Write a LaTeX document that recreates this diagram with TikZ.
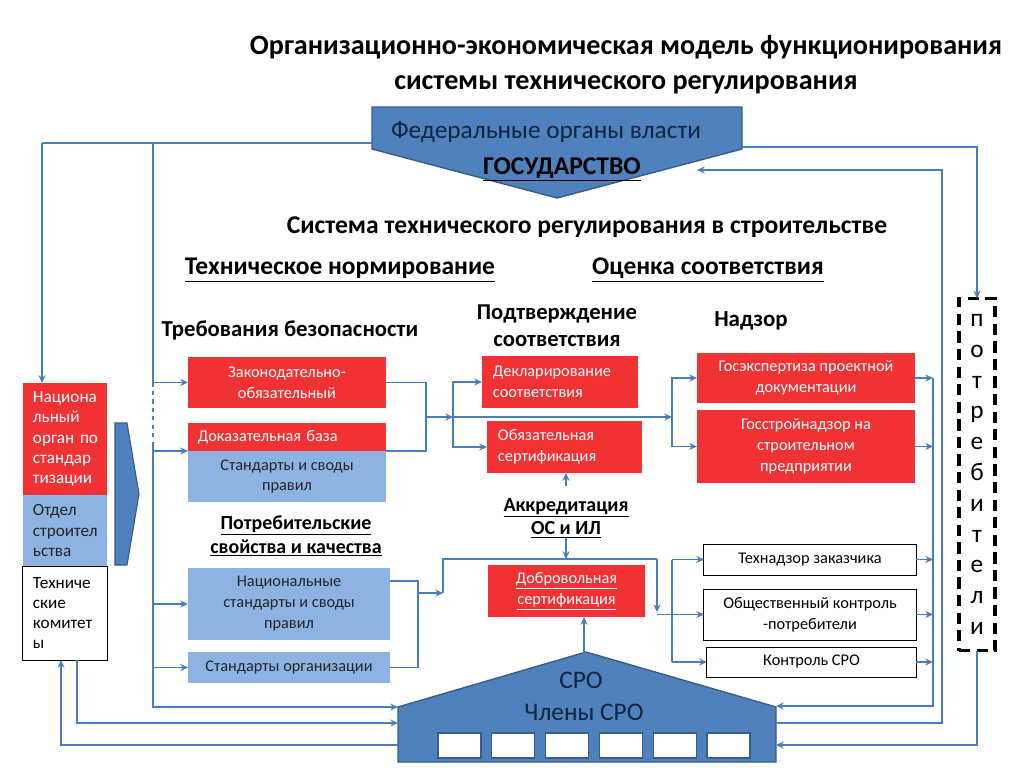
\documentclass[tikz,border=0pt]{standalone}
\usepackage{fontspec}
\setmainfont{Carlito}
\usetikzlibrary{arrows.meta}

\definecolor{boxred}{RGB}{240,50,52}
\definecolor{boxblue}{RGB}{141,179,226}
\definecolor{darkblue}{RGB}{79,129,189}
\definecolor{edgeblue}{RGB}{56,93,138}
\definecolor{linkblue}{RGB}{74,126,187}
\definecolor{navytext}{RGB}{16,37,63}

\begin{document}
\begin{tikzpicture}[
        x=0.025cm, y=-0.025cm,
        >={Stealth[length=5.5pt,width=5pt]},
        every node/.style={inner sep=0pt, outer sep=0pt},
        boxtext/.style={font=\fontsize{11.6}{14.9}\selectfont, align=center},
        redbox/.style={boxtext, fill=boxred, text=white},
        bluebox/.style={boxtext, fill=boxblue, text=black!85},
        whitebox/.style={boxtext, draw=black, line width=0.7pt, fill=white, text=black},
        colbox/.style={font=\fontsize{12.2}{14.3}\selectfont, align=left, text width=1.6cm, inner xsep=0.25cm, minimum height=#1},
        head/.style={font=\bfseries\fontsize{#1}{20}\selectfont, align=center},
        link/.style={draw=linkblue, line width=0.8pt},
    ]
    \useasboundingbox (0,0) rectangle (1024,768);

    % title
    \node[font=\bfseries\fontsize{20}{25}\selectfont, align=center] (title) at (626,65)
        {Организационно-экономическая модель функционирования\\системы технического регулирования};

    % state
    \draw[fill=darkblue, draw=edgeblue, line width=1pt] (372,107) -- (742,107) -- (742,149) -- (557,198) -- (372,149) -- cycle;
    \node[font=\fontsize{18}{20}\selectfont, text=navytext] (fed) at (546,132) {Федеральные органы власти};
    \node[font=\bfseries\fontsize{18.2}{20}\selectfont] (gos) at (562,169) {\underline{ГОСУДАРСТВО}};
    \coordinate (fedW) at (372,143);
    \coordinate (fedE) at (742,147);
    \coordinate (gosIn) at (697,170);

    % headings
    \node[head=18.2] (sys) at (587,227) {Система технического регулирования в строительстве};
    \node[head=18.1] (tn) at (340,270) {\underline{Техническое нормирование}};
    \node[head=18.1] (oc) at (708,270) {\underline{Оценка соответствия}};
    \node[head=16.2] (treb) at (290,330) {Требования безопасности};
    \node[font=\bfseries\fontsize{16.1}{19}\selectfont, align=center] (podtv) at (557,326) {Подтверждение\\соответствия};
    \node[head=16.3] (nadzor) at (751,321) {Надзор};
    \node[font=\bfseries\fontsize{14.2}{17}\selectfont, align=center] (potrsv) at (296,536)
        {\underline{Потребительские}\\\underline{свойства и качества}};
    \node[font=\bfseries\fontsize{14.2}{17}\selectfont, align=center] (akkr) at (566,518)
        {\underline{Аккредитация}\\\underline{ОС и ИЛ}};

    % left column
    \node[colbox=2.8cm, fill=boxred, text=white] (nat) at (65,439) {Национа\\льный\\орган~по\\стандар\\тизации};
    \node[colbox=1.775cm, fill=boxblue, text=black!85] (otdel) at (65,530.5) {Отдел\\строител\\ьства};
    \node[colbox=2.35cm, draw=black, line width=0.7pt, fill=white] (tk) at (65,613) {Техниче\\ские\\комитет\\ы};
    \draw[fill=darkblue, draw=edgeblue, line width=0.8pt] (115,423) -- (127,423) -- (139,494) -- (127,565) -- (115,565) -- cycle;

    % technical norms
    \node[redbox, minimum width=4.95cm, minimum height=1.275cm] (zak) at (287,382.5) {Законодательно-\\обязательный};
    \node[redbox, text width=4.45cm, inner xsep=0.25cm, minimum height=0.7cm, align=left] (dokaz) at (287,437) {Доказательная база};
    \node[bluebox, minimum width=4.95cm, minimum height=1.275cm] (std) at (287,476.5) {Стандарты и своды\\правил};
    \node[bluebox, minimum width=5.05cm, minimum height=1.8cm] (natstd) at (289,604) {Национальные\\стандарты и своды\\правил};
    \node[bluebox, minimum width=5.05cm, minimum height=0.775cm] (orgstd) at (289,667.5) {Стандарты организации};

    % conformity
    \node[redbox, text width=3.35cm, inner xsep=0.275cm, minimum height=1.3cm, align=left] (decl) at (560,382) {Декларирование\\соответствия};
    \node[redbox, text width=3.325cm, inner xsep=0.275cm, minimum height=1.3cm, align=left] (oblig) at (564.5,447) {Обязательная\\сертификация};
    \node[redbox, minimum width=3.925cm, minimum height=1.3cm] (dobr) at (566.5,591) {\underline{Добровольная}\\\underline{сертификация}};
    \node[redbox, minimum width=5.45cm, minimum height=1.25cm] (gosexp) at (806,378) {Госэкспертиза проектной\\документации};
    \node[redbox, minimum width=5.45cm, minimum height=1.825cm] (gosstroy) at (806,446.5) {Госстройнадзор на\\строительном\\предприятии};
    \node[whitebox, minimum width=5.3cm, minimum height=0.775cm] (tehnadz) at (810,559.5) {Технадзор заказчика};
    \node[whitebox, minimum width=5.3cm, minimum height=1.275cm] (obsch) at (810,614.5) {Общественный контроль\\-потребители};
    \node[whitebox, minimum width=5.225cm, minimum height=0.75cm] (kontr) at (811.5,662) {Контроль СРО};

    % consumers
    \node[draw=black, line width=2.4pt, dash pattern=on 8pt off 4.5pt, minimum width=0.9cm, minimum height=8.8cm,
        align=center, font=\fontsize{18}{21.9}\selectfont] (potr) at (977,474.5)
        {п\\о\\т\\р\\е\\б\\и\\т\\е\\л\\и};

    % SRO
    \draw[fill=darkblue, draw=edgeblue, line width=1pt] (398,707) -- (586,652) -- (776,707) -- (776,762) -- (398,762) -- cycle;
    \foreach \i in {0,...,5}
        \draw[fill=white, draw=edgeblue, line width=0.8pt] ({438+53.8*\i},733) rectangle +(43,25);
    \node[font=\fontsize{18}{20}\selectfont, text=navytext] (sro) at (581,680) {СРО};
    \node[font=\fontsize{18}{20}\selectfont, text=navytext] (members) at (584,712) {Члены СРО};
    \coordinate (sroA) at (398,707);
    \coordinate (sroB) at (398,723);
    \coordinate (sroC) at (398,745);
    \coordinate (sroD) at (776,706);
    \coordinate (sroE) at (776,723);
    \coordinate (sroF) at (776,745);
    \coordinate (sroTop) at (584,653);

    % left links
    \coordinate (busL) at (42,143);
    \coordinate (busM) at (153,143);
    \coordinate (busGap) at (153,443);
    \draw[link] (fedW) -- (busL);
    \draw[link,->] (busL) -- (busL |- nat.north);
    \draw[link] (busM) -- (busM |- zak.west);
    \draw[link,dashed] (busM |- zak.west) -- (busGap);
    \draw[link,->] (busGap) |- (sroA);
    \draw[link,->] (busM |- zak.west) -- (zak.west);
    \draw[link,->] (busM |- dokaz.south) -- (dokaz.south west);
    \draw[link,->] (busM |- natstd.west) -- (natstd.west);
    \draw[link,->] (busM |- orgstd.west) -- (orgstd.west);
    \draw[link,->] ([xshift=0.3cm]tk.south) |- (sroB);
    \draw[link,->] (sroC) -| ([xshift=-0.1cm]tk.south);

    % middle links
    \coordinate (j1) at (426,417);
    \coordinate (j2) at (453,417);
    \coordinate (j3) at (672,417);
    \draw[link] (zak.east) -| (j1);
    \draw[link] (dokaz.south east) -| (j1);
    \draw[link,->] (j1) -- (j2);
    \draw[link,->] (j2) |- (decl.west);
    \draw[link,->] (j2) |- (oblig.west);
    \draw[link,->] (j2) -- (j3);
    \draw[link,->] (j3) |- (gosexp.west);
    \draw[link,->] (j3) |- (gosstroy.west);

    \coordinate (j4) at (418,593);
    \coordinate (j5) at (443,593);
    \coordinate (j6) at (657,559);
    \coordinate (j7) at (672,559.5);
    \draw[link] ([yshift=-0.325cm]natstd.north east) -| (j4);
    \draw[link] (orgstd.east) -| (j4);
    \draw[link,->] (j4) -- (j5);
    \draw[link] (j5) |- (j6);
    \draw[link,->] (j6) -- ([yshift=0.06cm]j6 |- obsch.west);
    \draw[link,->] (j6 |- obsch.west) -- (obsch.west);
    \draw[link] (j7) -- (j7 |- kontr.west);
    \draw[link,->] (j7) -- (tehnadz.west);
    \draw[link,->] (j7 |- kontr.west) -- (kontr.west);
    \draw[link,->] ([yshift=0.3cm]akkr.north) -- (akkr.north |- oblig.south);
    \draw[link,->] (akkr.south) -- (akkr.south |- j6);
    \draw[link,->] (sroTop) -- (sroTop |- dobr.south);

    % right links
    \coordinate (rIn) at (933,378);
    \coordinate (rOut) at (942,170);
    \draw[link,->] (gosexp.east) -- (gosexp.east -| rIn);
    \draw[link,->] (gosstroy.east) -- (gosstroy.east -| rIn);
    \draw[link,->] (tehnadz.east) -- (tehnadz.east -| rIn);
    \draw[link,->] (obsch.east) -- (obsch.east -| rIn);
    \draw[link,->] (kontr.east) -- (kontr.east -| rIn);
    \draw[link,->] (rIn) |- (sroD);
    \draw[link,->] (sroE) -| (rOut) -- (gosIn);
    \draw[link,->] (fedE) -| (potr.north);
    \draw[link,->] (potr.south) |- (sroF);
\end{tikzpicture}
\end{document}
